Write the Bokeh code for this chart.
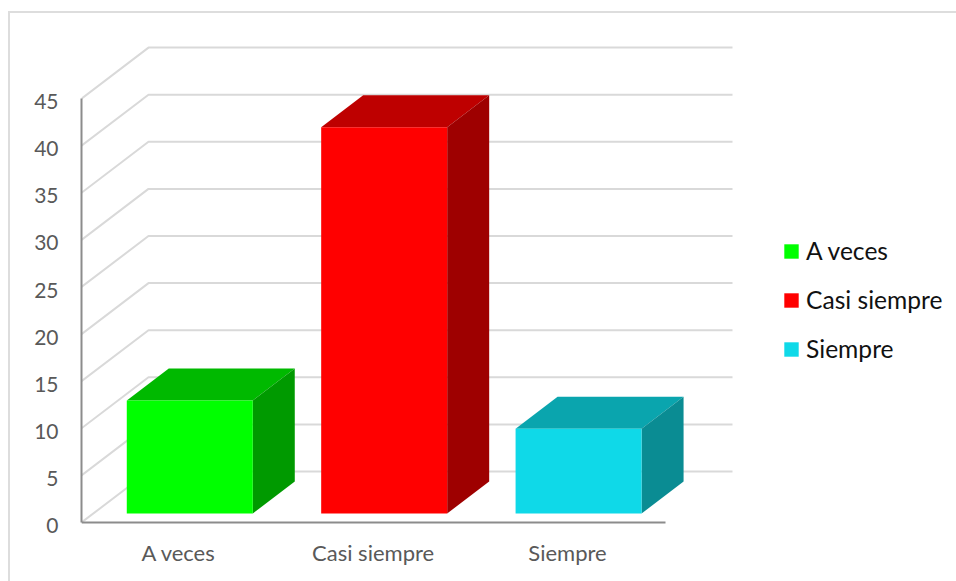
from bokeh.embed import file_html
from bokeh.resources import INLINE
from bokeh.plotting import figure
from bokeh.models import (FixedTicker, InlineStyleSheet, Legend, LegendItem, LinearAxis, Range1d)

categories = ["A veces", "Casi siempre", "Siempre"]
values = [12, 41, 9]
front_colors = ["#00FF00", "#FF0000", "#0FD9E8"]
top_colors = ["#00B900", "#BE0000", "#0AA5AE"]
side_colors = ["#009A00", "#9E0000", "#0A8C93"]
y_ticks = [0, 5, 10, 15, 20, 25, 30, 35, 40, 45]

# Screen scale of the chart: pixels per category and per unit of value
PX_X = 194.4
PX_Y = 9.42
FRAME_LEFT = 81
ZERO_ROW = 522      # page row of value 0
FRAME_MARGIN = 4    # frame reaches this far below value 0
W, H = 956, 581

# Oblique projection: depth of the walls and of the bars
WALL_DX, WALL_DY = 67 / PX_X, 51 / PX_Y
BAR_DX, BAR_DY = 42 / PX_X, 32 / PX_Y
BAR_WIDTH = 126 / PX_X
BAR_OFFSET = 0.557
BAR_BASE = 9 / PX_Y
FLOOR_END = 584 / PX_X
WALL_END = FLOOR_END + WALL_DX
LABEL_DROP = 3 / PX_Y

# Outer chart border; its right and bottom edges run past the page
border_css = InlineStyleSheet(css="""
:host { overflow: hidden; }
:host::after {
  content: ""; position: absolute; left: 8px; top: 11px;
  width: 2000px; height: 2000px;
  border-left: 2px solid #DDDDDD; border-top: 2px solid #DDDDDD;
  pointer-events: none; z-index: 1;
}
""")

y_start = -FRAME_MARGIN / PX_Y
y_end = ZERO_ROW / PX_Y
p = figure(
    width=W, height=H, output_backend="svg", toolbar_location=None,
    x_range=Range1d(0, (W - FRAME_LEFT) / PX_X),
    y_range=Range1d(y_start, y_end),
    min_border_left=FRAME_LEFT, min_border_bottom=H - ZERO_ROW - FRAME_MARGIN,
    min_border_top=0, min_border_right=0,
    background_fill_color="white", border_fill_color="white",
    outline_line_color=None, stylesheets=[border_css],
)
p.grid.visible = False

# Wall gridlines: a diagonal up the side wall, then straight across the back
p.multi_line(
    xs=[[0, WALL_DX, WALL_END] for _ in y_ticks],
    ys=[[t, t + WALL_DY, t + WALL_DY] for t in y_ticks],
    line_color="#D9D9D9", line_width=2,
)

# Front edge of the floor
p.line([0, FLOOR_END], [0, 0], line_color="#8C8C8C", line_width=2)

items = []
for i, (name, v) in enumerate(zip(categories, values)):
    x0 = i + BAR_OFFSET - BAR_WIDTH / 2
    x1 = x0 + BAR_WIDTH
    y0 = BAR_BASE
    y1 = BAR_BASE + v
    p.patch([x0, x1, x1 + BAR_DX, x0 + BAR_DX],
            [y1, y1, y1 + BAR_DY, y1 + BAR_DY],
            fill_color=top_colors[i], line_color=None)
    p.patch([x1, x1 + BAR_DX, x1 + BAR_DX, x1],
            [y0, y0 + BAR_DY, y1 + BAR_DY, y1],
            fill_color=side_colors[i], line_color=None)
    front = p.quad(left=x0, right=x1, bottom=y0, top=y1,
                   fill_color=front_colors[i], line_color=None)
    items.append(LegendItem(label=name, renderers=[front]))

legend = Legend(
    items=items, location=(701, 163), orientation="vertical",
    padding=0, margin=0, spacing=20, glyph_width=18, glyph_height=18,
    label_standoff=6, label_text_font="Lato", label_text_font_size="24.6px",
    label_text_color="#111111", border_line_color=None, background_fill_alpha=0,
)
p.add_layout(legend)

# The inner axis draws the line; the outer one carries the labels, set slightly lower
yax = p.yaxis[0]
yax.ticker = FixedTicker(ticks=[])
yax.bounds = (0, 45)
yax.axis_line_color = "#8C8C8C"
yax.axis_line_width = 2
yax.major_tick_line_color = None
yax.minor_tick_line_color = None
yax.major_label_standoff = 0

p.extra_y_ranges["labels"] = Range1d(y_start + LABEL_DROP, y_end + LABEL_DROP)
label_axis = LinearAxis(
    y_range_name="labels", ticker=FixedTicker(ticks=y_ticks), bounds=(0, 45),
    axis_line_color=None, major_tick_line_color=None, minor_tick_line_color=None,
    major_label_standoff=17, major_label_text_font="Lato",
    major_label_text_font_size="21px", major_label_text_color="#595959",
)
p.add_layout(label_axis, "left")

xax = p.xaxis[0]
xax.ticker = FixedTicker(ticks=[i + 0.5 for i in range(len(categories))])
xax.major_label_overrides = {i + 0.5: c for i, c in enumerate(categories)}
xax.axis_line_color = None
xax.major_tick_line_color = None
xax.minor_tick_line_color = None
xax.major_label_standoff = 6
xax.major_label_text_font = "Lato"
xax.major_label_text_font_size = "22px"
xax.major_label_text_color = "#595959"

open("out.html", "w").write(file_html(p, INLINE))
